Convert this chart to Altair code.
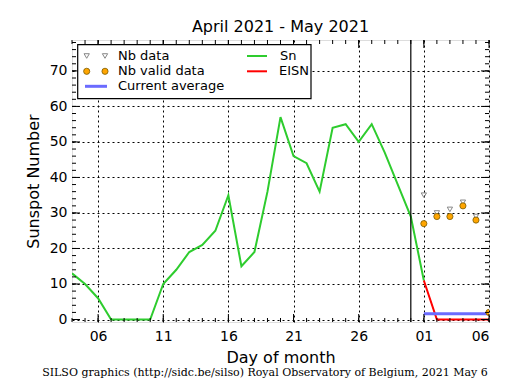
import altair as alt
import pandas as pd

# ---------------- data ----------------
sn_dates = ["2021-04-04", "2021-04-05", "2021-04-06", "2021-04-07", "2021-04-08",
            "2021-04-09", "2021-04-10", "2021-04-11", "2021-04-12", "2021-04-13",
            "2021-04-14", "2021-04-15", "2021-04-16", "2021-04-17", "2021-04-18",
            "2021-04-19", "2021-04-20", "2021-04-21", "2021-04-22", "2021-04-23",
            "2021-04-24", "2021-04-25", "2021-04-26", "2021-04-27", "2021-04-28",
            "2021-04-29", "2021-04-30", "2021-05-01"]
sn_values = [13, 10, 6, 0, 0, 0, 0, 10, 14, 19, 21, 25, 35, 15, 19,
             36, 57, 46, 44, 36, 54, 55, 50, 55, 47, 38, 29, 11]

eisn_dates = ["2021-05-01", "2021-05-02", "2021-05-03", "2021-05-04", "2021-05-05", "2021-05-06"]
eisn_values = [11, 0, 0, 0, 0, 0]

nb_dates = ["2021-05-01", "2021-05-02", "2021-05-03", "2021-05-04", "2021-05-05"]
nb_data = [35, 30, 31, 33, 29]

valid_dates = ["2021-05-01", "2021-05-02", "2021-05-03", "2021-05-04", "2021-05-05", "2021-05-06"]
valid_data = [27, 29, 29, 32, 28, 2]

avg_dates = ["2021-05-01", "2021-05-06"]
avg_values = [1.6, 1.6]

month_boundary = ["2021-04-30"]

x_tick_dates = ["2021-04-06", "2021-04-11", "2021-04-16", "2021-04-21", "2021-04-26",
                "2021-05-01", "2021-05-06"]
x_tick_labels = ["06", "11", "16", "21", "26", "01", "06"]
y_ticks = [0, 10, 20, 30, 40, 50, 60, 70]

x_start, x_end = "2021-04-04", "2021-05-06"
y_min, y_max = -0.7, 78.7

title_text = "April 2021 - May 2021"
footer_text = "SILSO graphics (http://sidc.be/silso) Royal Observatory of Belgium, 2021 May 6"

# ---------------- helpers ----------------
ORIGIN = pd.Timestamp("2021-03-31")


def dn(d):
    return (pd.Timestamp(d) - ORIGIN).days


W, H = 417, 282
FONT = "DejaVu Sans"

xs = alt.Scale(domain=[dn(x_start), dn(x_end)], nice=False, zero=False)
ys = alt.Scale(domain=[y_min, y_max], nice=False, zero=False)

tick_vals = [dn(d) for d in x_tick_dates]
label_expr = " : ".join(f"datum.value == {v} ? '{l}'" for v, l in zip(tick_vals, x_tick_labels)) + " : ''"

sn_df = pd.DataFrame({"x": [dn(d) for d in sn_dates], "y": sn_values})
eisn_df = pd.DataFrame({"x": [dn(d) for d in eisn_dates], "y": eisn_values})
nb_df = pd.DataFrame({"x": [dn(d) for d in nb_dates], "y": nb_data})
valid_df = pd.DataFrame({"x": [dn(d) for d in valid_dates], "y": valid_data})
avg_df = pd.DataFrame({"x": [dn(d) for d in avg_dates], "y": avg_values})
vline_df = pd.DataFrame({"x": [dn(d) for d in month_boundary]})

X = alt.X("x:Q", scale=xs,
          axis=alt.Axis(values=tick_vals, labelExpr=label_expr, title="Day of month",
                        grid=True, gridDash=[2, 3], gridColor="black", gridOpacity=1,
                        ticks=False, domain=False, labelFont=FONT, labelFontSize=14,
                        labelColor="black", labelPadding=7, titleFont=FONT,
                        titleFontSize=16, titleFontWeight="normal", titleColor="black",
                        titlePadding=6))
Y = alt.Y("y:Q", scale=ys,
          axis=alt.Axis(values=y_ticks, title="Sunspot Number",
                        grid=True, gridDash=[2, 3], gridColor="black", gridOpacity=1,
                        ticks=False, domain=False, labelFont=FONT, labelFontSize=14,
                        labelColor="black", labelPadding=5, titleFont=FONT,
                        titleFontSize=16, titleFontWeight="normal", titleColor="black",
                        titlePadding=8))

base_sn = alt.Chart(sn_df).mark_line(color="#2ecc2e", strokeWidth=2, clip=True).encode(x=X, y=Y)
eisn = alt.Chart(eisn_df).mark_line(color="#ff0000", strokeWidth=2, clip=True).encode(
    x=alt.X("x:Q", scale=xs), y=alt.Y("y:Q", scale=ys))
avg = alt.Chart(avg_df).mark_line(color="#6b6bff", strokeWidth=3, clip=True).encode(
    x=alt.X("x:Q", scale=xs), y=alt.Y("y:Q", scale=ys))
vline = alt.Chart(vline_df).mark_rule(color="black", strokeWidth=1.2).encode(
    x=alt.X("x:Q", scale=xs))
nb = alt.Chart(nb_df).mark_point(shape="triangle-down", size=28, filled=False,
                                  color="#555555", strokeWidth=1, clip=True).encode(
    x=alt.X("x:Q", scale=xs), y=alt.Y("y:Q", scale=ys))
valid = alt.Chart(valid_df).mark_point(shape="circle", size=38, filled=True, fill="orange",
                                        stroke="#7a5a00", strokeWidth=0.8, opacity=1,
                                        clip=True).encode(
    x=alt.X("x:Q", scale=xs), y=alt.Y("y:Q", scale=ys))

# inward ticks (matplotlib style)
minor_x = pd.DataFrame({"x": list(range(dn(x_start), dn(x_end) + 1))})
major_x = pd.DataFrame({"x": tick_vals})
minor_y = pd.DataFrame({"y": list(range(0, 79, 2))})
major_y = pd.DataFrame({"y": y_ticks})

tick_layers = []
for df_, ln in ((minor_x, 4), (major_x, 8)):
    tick_layers.append(alt.Chart(df_).mark_rule(color="black", strokeWidth=1).encode(
        x=alt.X("x:Q", scale=xs), y=alt.value(H), y2=alt.value(H - ln)))
    tick_layers.append(alt.Chart(df_).mark_rule(color="black", strokeWidth=1).encode(
        x=alt.X("x:Q", scale=xs), y=alt.value(0), y2=alt.value(ln)))
for df_, ln in ((minor_y, 4), (major_y, 8)):
    tick_layers.append(alt.Chart(df_).mark_rule(color="black", strokeWidth=1).encode(
        y=alt.Y("y:Q", scale=ys), x=alt.value(0), x2=alt.value(ln)))
    tick_layers.append(alt.Chart(df_).mark_rule(color="black", strokeWidth=1).encode(
        y=alt.Y("y:Q", scale=ys), x=alt.value(W), x2=alt.value(W - ln)))

# manual legend
one = pd.DataFrame({"a": [0]})
leg = [
    alt.Chart(one).mark_rect(fill="white", stroke="black", strokeWidth=1.2).encode(
        x=alt.value(5.7), x2=alt.value(239), y=alt.value(4.7), y2=alt.value(58.7)),
]
for lx in (14.7, 33):
    leg.append(alt.Chart(one).mark_point(shape="triangle-down", size=28, filled=False,
                                         color="#555555", strokeWidth=1).encode(
        x=alt.value(lx), y=alt.value(16)))
    leg.append(alt.Chart(one).mark_point(shape="circle", size=38, filled=True, fill="orange",
                                         stroke="#7a5a00", strokeWidth=0.8, opacity=1).encode(
        x=alt.value(lx), y=alt.value(31.3)))
leg.append(alt.Chart(one).mark_rule(color="#6b6bff", strokeWidth=3).encode(
    x=alt.value(13), x2=alt.value(35), y=alt.value(46.3)))
leg.append(alt.Chart(one).mark_rule(color="#2ecc2e", strokeWidth=2).encode(
    x=alt.value(175), x2=alt.value(195), y=alt.value(16)))
leg.append(alt.Chart(one).mark_rule(color="#ff0000", strokeWidth=2).encode(
    x=alt.value(175), x2=alt.value(195), y=alt.value(31.3)))
for txt, tx, ty in (("Nb data", 46, 16), ("Nb valid data", 46, 31.3),
                    ("Current average", 46, 46.3), ("Sn", 208, 16), ("EISN", 207, 31.3)):
    leg.append(alt.Chart(one).mark_text(text=txt, align="left", baseline="middle",
                                        font=FONT, fontSize=13, color="black").encode(
        x=alt.value(tx), y=alt.value(ty)))

footer = alt.Chart(one).mark_text(text=footer_text, align="center", baseline="alphabetic",
                                  font="DejaVu Serif", fontSize=11, color="black").encode(
    x=alt.value(193), y=alt.value(336))

chart = alt.layer(base_sn, eisn, avg, vline, nb, valid, *tick_layers, *leg, footer).properties(
    width=W, height=H,
    title=alt.TitleParams(title_text, font=FONT, fontSize=16, fontWeight="normal",
                          color="black", anchor="middle", offset=4),
    autosize=alt.AutoSizeParams(type="none"),
    padding={"left": 64, "top": 32, "right": 18, "bottom": 60},
).configure_view(stroke="black", strokeWidth=1.5).configure(background="white")

chart.save("out.html", embed_options={"renderer": "svg", "actions": False})
